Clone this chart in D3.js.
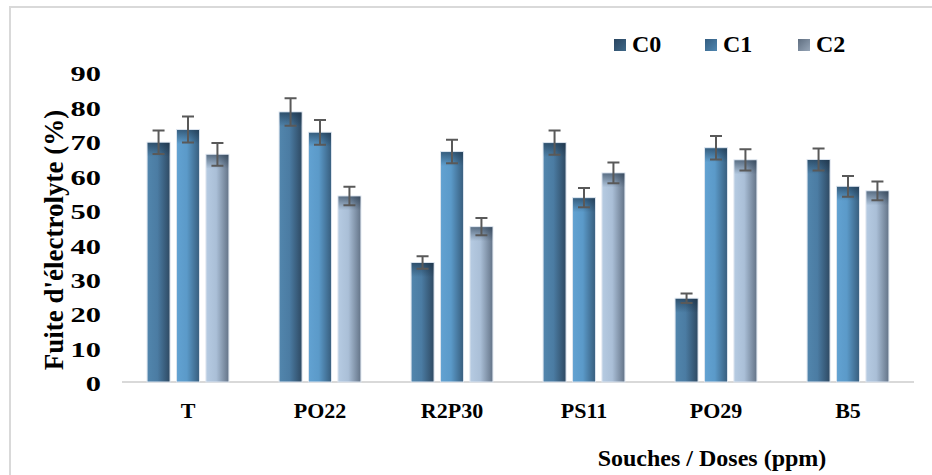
<!DOCTYPE html>
<html>
<head>
<meta charset="utf-8">
<script src="https://cdn.jsdelivr.net/npm/d3@7"></script>
<style>
  html, body { margin: 0; padding: 0; background: #ffffff; }
  svg { display: block; }
</style>
</head>
<body>
<svg id="chart" width="932" height="475"></svg>
<script>
// Electrolyte leakage (%) per strain and dose, with standard errors
const categories = ["T", "PO22", "R2P30", "PS11", "PO29", "B5"];
const seriesNames = ["C0", "C1", "C2"];
const valuesC0 = [69.6, 78.4, 34.7, 69.5, 24.3, 64.6];
const valuesC1 = [73.3, 72.5, 66.9, 53.5, 68.0, 56.8];
const valuesC2 = [66.1, 54.0, 45.1, 60.7, 64.5, 55.5];
const errorC0 = [3.4, 4.0, 1.8, 3.5, 1.4, 3.2];
const errorC1 = [3.8, 3.6, 3.4, 2.8, 3.4, 3.0];
const errorC2 = [3.3, 2.7, 2.5, 3.0, 3.1, 2.7];
const yTicks = [0, 10, 20, 30, 40, 50, 60, 70, 80, 90];

const values = [valuesC0, valuesC1, valuesC2];
const errors = [errorC0, errorC1, errorC2];

const SERIF = "'Liberation Serif', 'Times New Roman', 'DejaVu Serif', serif";

const svg = d3.select("#chart");
const defs = svg.append("defs");

// Bar shading: lighter on the left, darker towards the right edge
const barStops = [
  [["0%", "#5286ad"], ["45%", "#4b7ca3"], ["100%", "#2e4962"]],
  [["0%", "#62a2d2"], ["45%", "#5b9ac9"], ["100%", "#375d7d"]],
  [["0%", "#b6cbe2"], ["45%", "#aabfd7"], ["100%", "#637387"]]
];
barStops.forEach((stops, i) => {
  const g = defs.append("linearGradient").attr("id", "bar" + i)
    .attr("x1", "0%").attr("x2", "100%").attr("y1", "0%").attr("y2", "0%");
  stops.forEach(s => g.append("stop").attr("offset", s[0]).attr("stop-color", s[1]));
});
// Legend swatches: darker diagonal shading
const legendStops = [
  [["0%", "#2a4560"], ["100%", "#3f6888"]],
  [["0%", "#345d80"], ["100%", "#4f86b0"]],
  [["0%", "#5f6e80"], ["100%", "#97a6b8"]]
];
legendStops.forEach((stops, i) => {
  const g = defs.append("linearGradient").attr("id", "leg" + i)
    .attr("x1", "0%").attr("x2", "100%").attr("y1", "0%").attr("y2", "100%");
  stops.forEach(s => g.append("stop").attr("offset", s[0]).attr("stop-color", s[1]));
});
// Top bevel
const topShade = defs.append("linearGradient").attr("id", "topShade")
  .attr("x1", "0%").attr("x2", "0%").attr("y1", "0%").attr("y2", "100%");
topShade.append("stop").attr("offset", "0%").attr("stop-color", "#14283c").attr("stop-opacity", 0.55);
topShade.append("stop").attr("offset", "100%").attr("stop-color", "#14283c").attr("stop-opacity", 0);

// Outer frame
svg.append("rect")
  .attr("x", 10).attr("y", 7).attr("width", 940).attr("height", 490)
  .attr("fill", "none").attr("stroke", "#d9d9d9").attr("stroke-width", 2);

const plotLeft = 122, plotRight = 914, plotTop = 72, plotBottom = 382;

const y = d3.scaleLinear().domain([0, 90]).range([plotBottom, plotTop]);
const x0 = d3.scaleBand().domain(categories).range([plotLeft, plotRight])
  .paddingInner(0.38).paddingOuter(0.19);
const x1 = d3.scaleBand().domain(seriesNames).range([0, x0.bandwidth()])
  .paddingInner(0.22);

// Y tick labels (no axis line); digits drawn wide
const yAxis = d3.axisLeft(y).tickValues(yTicks).tickSize(0).tickPadding(0);
const yG = svg.append("g").attr("transform", `translate(101,0)`).call(yAxis)
  .attr("font-family", null).attr("font-size", null);
yG.select(".domain").remove();
yG.selectAll("text")
  .style("font-family", SERIF).style("font-weight", "bold").style("font-size", "21px")
  .attr("fill", "#000").attr("x", 0).attr("dy", "0.42em")
  .attr("transform", "scale(1.45,1)");

// X axis line and category labels
const xAxis = d3.axisBottom(x0).tickSize(0).tickPadding(0);
const xG = svg.append("g").attr("transform", `translate(0,${plotBottom})`).call(xAxis)
  .attr("font-family", null).attr("font-size", null);
xG.select(".domain").attr("stroke", "#d9d9d9").attr("stroke-width", 2)
  .attr("d", `M${plotLeft},0H${plotRight}`);
xG.selectAll("text")
  .style("font-family", SERIF).style("font-weight", "bold").style("font-size", "22px")
  .attr("fill", "#000").attr("dy", null).attr("y", 36);

// Bars
const groups = svg.append("g").selectAll("g").data(categories).join("g")
  .attr("transform", d => `translate(${x0(d)},0)`);

seriesNames.forEach((s, si) => {
  groups.each(function(c, ci) {
    const g = d3.select(this);
    const v = values[si][ci];
    g.append("rect")
      .attr("x", x1(s)).attr("y", y(v))
      .attr("width", x1.bandwidth()).attr("height", y(0) - y(v))
      .attr("fill", `url(#bar${si})`)
      .attr("stroke", "#dce4ee").attr("stroke-width", 1);
    g.append("rect")
      .attr("x", x1(s) + 0.5).attr("y", y(v) + 0.5)
      .attr("width", x1.bandwidth() - 1).attr("height", Math.min(14, y(0) - y(v) - 1))
      .attr("fill", "url(#topShade)");
  });
});

// Error bars
seriesNames.forEach((s, si) => {
  groups.each(function(c, ci) {
    const g = d3.select(this);
    const v = values[si][ci], e = errors[si][ci];
    const cx = x1(s) + x1.bandwidth() / 2;
    const cap = 6;
    const path = d3.path();
    path.moveTo(cx, y(v + e)); path.lineTo(cx, y(v - e));
    path.moveTo(cx - cap, y(v + e)); path.lineTo(cx + cap, y(v + e));
    path.moveTo(cx - cap, y(v - e)); path.lineTo(cx + cap, y(v - e));
    g.append("path").attr("d", path.toString())
      .attr("stroke", "#595959").attr("stroke-width", 2).attr("fill", "none");
  });
});

// Axis titles
svg.append("text")
  .attr("transform", `translate(63,${(95 + 385) / 2}) rotate(-90)`)
  .attr("text-anchor", "middle")
  .style("font-family", SERIF).style("font-weight", "bold").style("font-size", "27px")
  .text("Fuite d'électrolyte (%)");

svg.append("text")
  .attr("x", 712).attr("y", 466)
  .attr("text-anchor", "middle")
  .style("font-family", SERIF).style("font-weight", "bold").style("font-size", "24px")
  .text("Souches / Doses (ppm)");

// Legend
const legendX = [614, 705, 798];
const legend = svg.append("g").selectAll("g").data(seriesNames).join("g")
  .attr("transform", (d, i) => `translate(${legendX[i]},39)`);
legend.append("rect").attr("width", 12).attr("height", 12)
  .attr("fill", (d, i) => `url(#leg${i})`);
legend.append("text").attr("x", 18).attr("y", 13)
  .style("font-family", SERIF).style("font-weight", "bold").style("font-size", "24px")
  .text(d => d);
</script>
</body>
</html>
